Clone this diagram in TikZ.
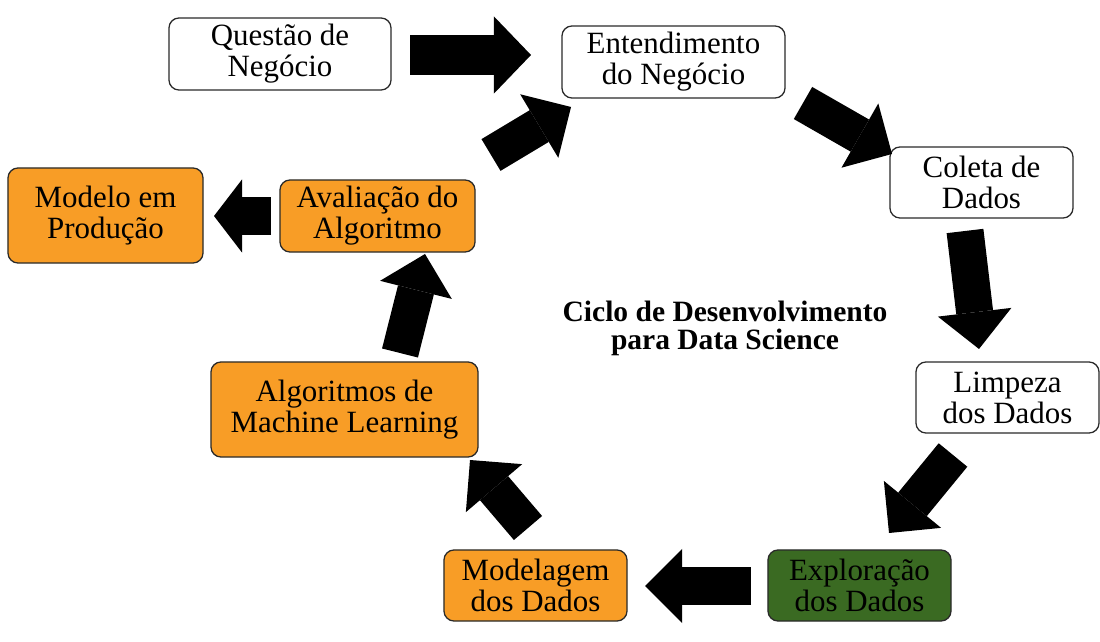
\documentclass[tikz,border=0pt]{standalone}
\usepackage{fontspec}
\setmainfont{Liberation Serif}
\usepackage{tikz}
\usetikzlibrary{arrows.meta}

\definecolor{laranja}{HTML}{F89D26}
\definecolor{verde}{HTML}{3A6A22}
\definecolor{borda}{HTML}{2A2A2A}

\begin{document}
\begin{tikzpicture}[x=0.025cm,y=-0.025cm]

  \tikzstyle{box}=[rectangle,draw=borda,line width=0.9pt,rounded corners=0.25cm,
    align=center,inner sep=0pt,font=\fontsize{22}{22}\selectfont];
  \tikzstyle{branco}=[box,fill=white];
  \tikzstyle{laranja}=[box,fill=laranja];
  \tikzstyle{verde}=[box,fill=verde];
  \tikzstyle{seta}=[draw=black,line width=0.925cm,
    -{Triangle[width=1.85cm,length=0.925cm,line width=0pt]}];

  \useasboundingbox (0,0) rectangle (1100,642);

  \node[branco]  (quest)   at (280,54)       [minimum width=5.55cm,minimum height=1.8cm]   {Questão de\\Negócio};
  \node[branco]  (entend)  at (673.5,62)     [minimum width=5.575cm,minimum height=1.8cm]  {Entendimento\\do Negócio};
  \node[branco]  (coleta)  at (981.5,182.5)  [minimum width=4.575cm,minimum height=1.775cm] {Coleta de\\Dados};
  \node[branco]  (limpeza) at (1007.5,397.5) [minimum width=4.575cm,minimum height=1.775cm] {Limpeza\\dos Dados};
  \node[verde]   (explor)  at (859.5,585.5)  [minimum width=4.575cm,minimum height=1.775cm] {Exploração\\dos Dados};
  \node[laranja] (modelag) at (535.5,585.5)  [minimum width=4.575cm,minimum height=1.775cm] {Modelagem\\dos Dados};
  \node[laranja] (algor)   at (344.5,409.5)  [minimum width=6.675cm,minimum height=2.375cm] {Algoritmos de\\Machine Learning};
  \node[laranja] (aval)    at (377.5,216)    [minimum width=4.875cm,minimum height=1.8cm]   {Avaliação do\\Algoritmo};
  \node[laranja] (modelo)  at (105.5,215.5)  [minimum width=4.875cm,minimum height=2.375cm] {Modelo em\\Produção};

  \node[align=center,font=\bfseries\fontsize{21}{20}\selectfont] (titulo) at (725,328)
    {Ciclo de Desenvolvimento\\para Data Science};

  % pontas livres das setas
  \coordinate (qe1) at (410,55);  \coordinate (qe2) at (531,55);
  \coordinate (ae1) at (491,155); \coordinate (ae2) at (571,107);
  \coordinate (ec1) at (803,103); \coordinate (ec2) at (892,154);
  \coordinate (cl1) at (965,231); \coordinate (cl2) at (979,349);
  \coordinate (lx1) at (953,455); \coordinate (lx2) at (889,533);
  \coordinate (xm1) at (751,586); \coordinate (xm2) at (645,586);
  \coordinate (ma1) at (528,528); \coordinate (ma2) at (470,460);
  \coordinate (aa1) at (400,353); \coordinate (aa2) at (425,254);
  \coordinate (am1) at (271,216); \coordinate (am2) at (214,216);

  \path
    (qe1) edge[seta,line width=1cm,-{Triangle[width=1.925cm,length=0.925cm,line width=0pt]}] (qe2)
    (ae1) edge[seta] (ae2)
    (ec1) edge[seta] (ec2)
    (cl1) edge[seta] (cl2)
    (lx1) edge[seta] (lx2)
    (xm1) edge[seta] (xm2)
    (ma1) edge[seta] (ma2)
    (aa1) edge[seta] (aa2)
    (am1) edge[seta,-{Triangle[width=1.825cm,length=0.7cm,line width=0pt]}] (am2)
  ;

\end{tikzpicture}
\end{document}
